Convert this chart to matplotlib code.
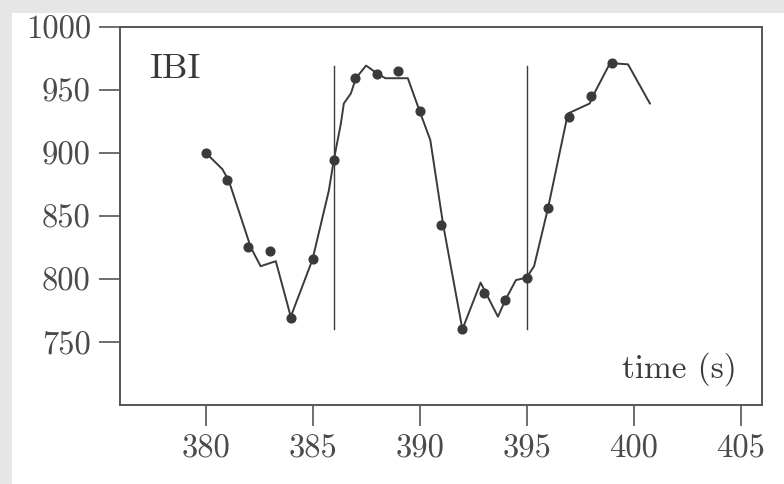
import matplotlib
matplotlib.use("Agg")
import matplotlib.pyplot as plt
from matplotlib.patches import Rectangle

# Data
beat_times = [380, 381, 382, 383, 384, 385, 386, 387, 388, 389,
              390, 391, 392, 393, 394, 395, 396, 397, 398, 399]
beat_ibi = [900, 878, 825, 822, 769, 816, 894, 959, 962, 965,
            933, 843, 760, 789, 783, 801, 856, 928, 945, 971]

curve_times = [380.0, 380.78, 381.08, 382.11, 382.57, 383.28, 383.98, 384.99,
               385.76, 385.99, 386.32, 386.46, 386.79, 387.02, 387.5, 388.0,
               388.4, 389.45, 390.0, 390.5, 391.1, 392.0, 392.85, 393.66,
               394.0, 394.5, 395.0, 395.35, 396.0, 396.93, 397.95, 398.1,
               398.9, 399.74, 400.76]
curve_ibi = [900, 887, 878, 825, 810, 814, 770, 815,
             870, 894, 923, 939, 947, 959, 969, 963,
             959, 959, 933, 910, 843, 760, 797, 770,
             783, 799, 801, 810, 856, 931, 939, 945,
             971, 970, 939]

marker_times = [386, 395]
marker_range = [760, 969]

xticks = [380, 385, 390, 395, 400, 405]
yticks = [750, 800, 850, 900, 950, 1000]

plt.rcParams['font.family'] = ['cmr10', 'DejaVu Serif']
plt.rcParams['axes.formatter.use_mathtext'] = True

W, H = 784, 484
fig = plt.figure(figsize=(W / 100, H / 100), dpi=100)
fig.patch.set_facecolor('white')
gray = '#e6e6e6'
fig.patches.append(Rectangle((0, 0), 12 / W, 1, transform=fig.transFigure,
                             facecolor=gray, edgecolor='none', zorder=-10))
fig.patches.append(Rectangle((0, 1 - 13 / H), 1, 13 / H, transform=fig.transFigure,
                             facecolor=gray, edgecolor='none', zorder=-10))

ax = fig.add_axes([120 / W, 1 - 405 / H, (762 - 120) / W, (405 - 26.5) / H])
ink = '#3a3a3a'
ax.plot(curve_times, curve_ibi, color=ink, lw=1.4, zorder=3)
ax.plot(beat_times, beat_ibi, 'o', color=ink, ms=6.3, zorder=4)
for t in marker_times:
    ax.plot([t, t], marker_range, color=ink, lw=1.0, zorder=2)

ax.set_xlim(376, 406)
ax.set_ylim(700, 1000)
ax.set_xticks(xticks)
ax.set_yticks(yticks)
ax.set_xticklabels([str(v) for v in xticks])
ax.set_yticklabels([str(v) for v in yticks])
for s in ax.spines.values():
    s.set_color('#555555')
    s.set_linewidth(1.4)
ax.tick_params(direction='out', length=15, width=1.2, color='#555555',
               labelsize=23.5, labelcolor='#4a4a4a', pad=6)

ax.text(0.045, 0.93, 'IBI', transform=ax.transAxes, fontsize=26,
        color='#3a3a3a', ha='left', va='top')
ax.text(0.96, 0.05, 'time (s)', transform=ax.transAxes, fontsize=24,
        color='#3a3a3a', ha='right', va='bottom')

fig.savefig('out.png', dpi=100)
